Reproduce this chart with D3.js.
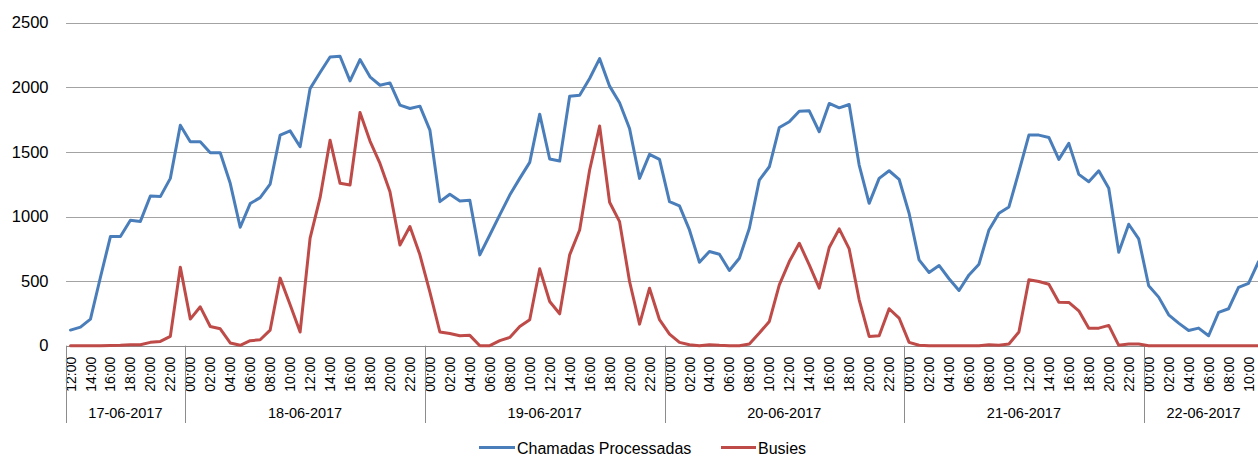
<!DOCTYPE html>
<html>
<head>
<meta charset="utf-8">
<script src="https://cdn.jsdelivr.net/npm/d3@7/dist/d3.min.js"></script>
<style>
  html, body { margin: 0; padding: 0; background: #fff; overflow: hidden; }
  svg { display: block; font-family: "Liberation Sans", Arial, sans-serif; }
</style>
</head>
<body>
<svg id="chart" width="1258" height="456"></svg>
<script>
// ---- Data ----
const dayLabels = ["17-06-2017", "18-06-2017", "19-06-2017", "20-06-2017", "21-06-2017", "22-06-2017"];
const dayFirstHour = [12, 0, 0, 0, 0, 0];
const dayHourCount = [12, 24, 24, 24, 24, 12];
const seriesNames = ["Chamadas Processadas", "Busies"];
const yTicks = [0, 500, 1000, 1500, 2000, 2500];

const chamadas = [
  121, 144, 206, 530, 845, 845, 971, 962, 1159, 1154, 1295, 1707,
  1578, 1578, 1494, 1494, 1257, 917, 1100, 1146, 1251, 1630, 1663, 1540, 1990, 2114, 2235, 2240, 2050, 2215, 2081, 2016, 2034, 1862, 1836, 1854,
  1669, 1115, 1172, 1120, 1125, 703, 857, 1012, 1166, 1295, 1419, 1792, 1445, 1429, 1931, 1939, 2068, 2222, 2009, 1880, 1681, 1295, 1481, 1442,
  1115, 1082, 896, 646, 729, 708, 582, 677, 909, 1282, 1385, 1689, 1733, 1815, 1818, 1656, 1875, 1841, 1867, 1398, 1102, 1295, 1354, 1288,
  1025, 664, 567, 621, 518, 427, 548, 631, 896, 1025, 1074, 1347, 1630, 1630, 1612, 1442, 1566, 1326, 1269, 1354, 1218, 724, 940, 827,
  464, 376, 239, 175, 118, 136, 77, 258, 286, 451, 482, 650
];
const busies = [
  0, 0, 0, 0, 2, 4, 8, 8, 26, 33, 72, 608,
  206, 301, 149, 131, 21, 3, 39, 46, 121, 523, 317, 106, 832, 1146, 1591, 1257, 1244, 1805, 1584, 1411, 1192, 780, 922, 703,
  415, 106, 95, 77, 80, 0, 0, 39, 64, 149, 201, 595, 342, 247, 703, 896, 1360, 1700, 1110, 960, 497, 167, 445, 201,
  90, 26, 8, 0, 8, 3, 0, 0, 13, 98, 188, 471, 651, 793, 626, 445, 760, 904, 749, 355, 72, 77, 286, 214,
  26, 3, 0, 0, 0, 0, 0, 0, 8, 3, 13, 106, 510, 497, 476, 337, 335, 270, 136, 136, 157, 3, 13, 13,
  0, 0, 0, 0, 0, 0, 0, 0, 0, 0, 0, 0
];

// ---- Categories (day + hour) ----
const categories = [];
dayLabels.forEach((d, di) => {
  for (let k = 0; k < dayHourCount[di]; k++) {
    const h = dayFirstHour[di] + k;
    categories.push({ key: d + " " + String(h).padStart(2, "0") + ":00", day: di, hour: h,
                      label: String(h).padStart(2, "0") + ":00" });
  }
});

// ---- Layout ----
const svg = d3.select("#chart");
const plotLeft = 65.5, plotRight = 1263.5, plotTop = 22.7, plotBottom = 345.7;
const colors = ["#4A7EBB", "#BE4B48"];

const x = d3.scaleBand().domain(categories.map(c => c.key)).range([plotLeft, plotRight]).padding(0);
const xc = k => x(k) + x.bandwidth() / 2;
const y = d3.scaleLinear().domain([0, 2500]).range([plotBottom, plotTop]);

// Gridlines + y labels
const yAxis = d3.axisLeft(y).tickValues(yTicks).tickFormat(d3.format("d"))
  .tickSize(-(plotRight - plotLeft)).tickPadding(17);
const gy = svg.append("g").attr("transform", `translate(${plotLeft},0)`).call(yAxis);
gy.select(".domain").remove();
gy.selectAll(".tick line").attr("stroke", d => d === 0 ? "#8c8c8c" : "#a3a3a3").attr("stroke-width", 1)
  .attr("shape-rendering", "crispEdges");
gy.selectAll(".tick text").attr("font-size", 16.5).attr("fill", "#000")
  .attr("font-family", "Liberation Sans, Arial, sans-serif");

// X tick labels (every two hours)
const tickKeys = categories.filter(c => c.hour % 2 === 0).map(c => c.key);
const labelOf = new Map(categories.map(c => [c.key, c.label]));
const xAxis = d3.axisBottom(x).tickValues(tickKeys).tickSize(0).tickFormat(k => labelOf.get(k));
const gx = svg.append("g").attr("transform", `translate(0,${plotBottom})`).call(xAxis);
gx.select(".domain").remove();
gx.selectAll(".tick text")
  .attr("font-size", 14).attr("fill", "#000")
  .attr("font-family", "Liberation Sans, Arial, sans-serif")
  .attr("transform", "rotate(-90)")
  .attr("text-anchor", "end")
  .attr("x", -11).attr("y", 0).attr("dy", "0.36em");

// Day group separators and labels
const dayStart = [];
let acc = 0;
dayHourCount.forEach(n => { dayStart.push(acc); acc += n; });
const sepG = svg.append("g");
dayStart.forEach((s, di) => {
  const xs = Math.round(x(categories[s].key)) + 0.5;
  sepG.append("line").attr("x1", xs).attr("x2", xs).attr("y1", plotBottom).attr("y2", 423)
    .attr("stroke", "#8c8c8c").attr("stroke-width", 1);
  const x0 = x(categories[s].key);
  const x1 = x0 + dayHourCount[di] * x.bandwidth();
  svg.append("text").attr("x", (x0 + x1) / 2).attr("y", 417.5)
    .attr("text-anchor", "middle").attr("font-size", 14.5).attr("fill", "#000")
    .text(dayLabels[di]);
});

// Lines
const line = d3.line().x((d, i) => xc(categories[i].key)).y(d => y(d));
[chamadas, busies].forEach((s, si) => {
  svg.append("path").datum(s).attr("d", line).attr("fill", "none")
    .attr("stroke", colors[si]).attr("stroke-width", 3)
    .attr("stroke-linejoin", "round").attr("stroke-linecap", "round");
});

// Legend
const legend = [
  { name: seriesNames[0], color: colors[0], x1: 479, x2: 515, tx: 517 },
  { name: seriesNames[1], color: colors[1], x1: 721, x2: 756, tx: 758 }
];
legend.forEach(l => {
  svg.append("line").attr("x1", l.x1).attr("x2", l.x2).attr("y1", 447.5).attr("y2", 447.5)
    .attr("stroke", l.color).attr("stroke-width", 3);
  svg.append("text").attr("x", l.tx).attr("y", 453.5).attr("font-size", 16).attr("fill", "#000").text(l.name);
});
</script>
</body>
</html>
